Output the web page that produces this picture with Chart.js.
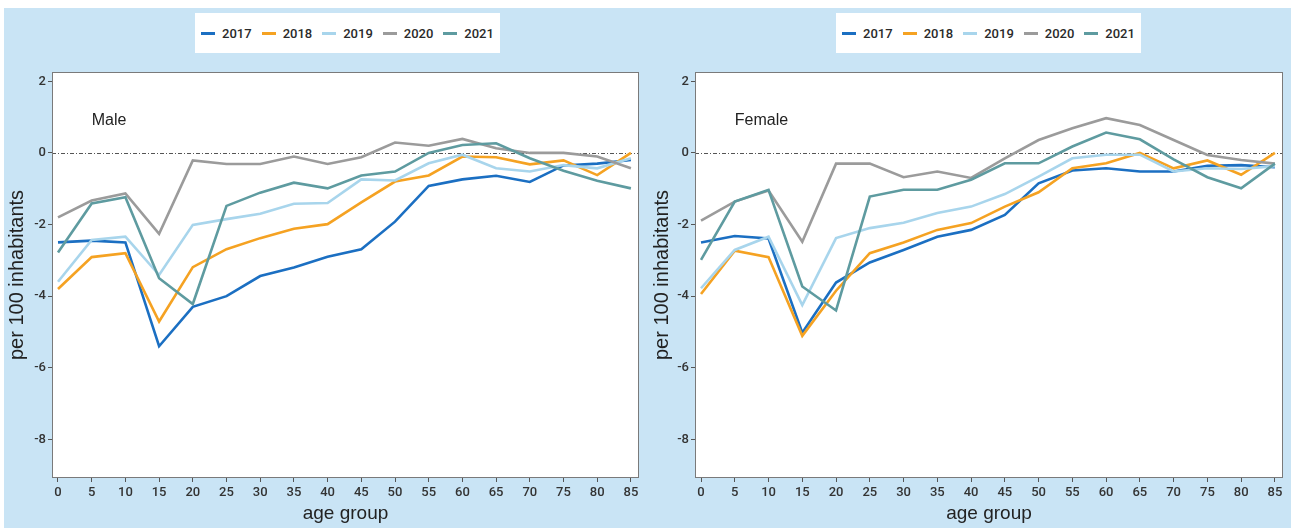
<!DOCTYPE html>
<html>
<head>
<meta charset="utf-8">
<script src="https://cdn.jsdelivr.net/npm/chart.js@4.4.1/dist/chart.umd.min.js"></script>
<style>
  body { margin: 0; background: #fff; width: 1291px; height: 528px; overflow: hidden; position: relative; }
  #bg { position: absolute; left: 4px; top: 8px; width: 1287px; height: 520px; background: #c9e4f5; }
  .panel { position: absolute; top: 0; height: 528px; }
  .legend {
    position: absolute; top: 13px; height: 40px; width: 305px; background: #fff;
    display: flex; align-items: center; justify-content: center;
    font: 500 13px Roboto, sans-serif; color: #2a2a2a;
  }
  .legend span.item { display: flex; align-items: center; margin: 0 5px; }
  .legend span.mark { display: inline-block; width: 14px; height: 3px; margin-right: 7px; }
</style>
</head>
<body>
<div id="bg"></div>
<div class="panel" style="left:0;width:645px"><canvas id="male" width="645" height="528"></canvas></div>
<div class="panel" style="left:645px;width:646px"><canvas id="female" width="646" height="528"></canvas></div>
<div class="legend" id="legMale" style="left:195px"></div>
<div class="legend" id="legFemale" style="left:836px"></div>
<script>
// data
const ages = [0, 5, 10, 15, 20, 25, 30, 35, 40, 45, 50, 55, 60, 65, 70, 75, 80, 85];
const years = ['2017', '2018', '2019', '2020', '2021'];
const colors = ['#1b6fc2', '#f5a222', '#a8d5ec', '#9b9b9b', '#5e9ba0'];
const yTicks = [-8, -6, -4, -2, 0, 2];

const male2017 = [-2.5, -2.45, -2.5, -5.4, -4.3, -4.0, -3.44, -3.2, -2.9, -2.69, -1.92, -0.92, -0.74, -0.64, -0.81, -0.35, -0.3, -0.2];
const male2018 = [-3.8, -2.91, -2.8, -4.71, -3.19, -2.69, -2.38, -2.12, -1.99, -1.38, -0.8, -0.63, -0.1, -0.12, -0.32, -0.21, -0.62, 0.0];
const male2019 = [-3.6, -2.43, -2.34, -3.41, -2.01, -1.85, -1.7, -1.42, -1.4, -0.74, -0.77, -0.29, -0.05, -0.43, -0.52, -0.34, -0.43, -0.15];
const male2020 = [-1.8, -1.33, -1.13, -2.26, -0.21, -0.31, -0.31, -0.1, -0.31, -0.12, 0.29, 0.2, 0.39, 0.13, 0.0, 0.0, -0.1, -0.43];
const male2021 = [-2.78, -1.41, -1.24, -3.5, -4.22, -1.48, -1.11, -0.83, -0.99, -0.63, -0.52, 0.0, 0.22, 0.27, -0.15, -0.5, -0.78, -0.99];

const female2017 = [-2.5, -2.32, -2.39, -5.02, -3.62, -3.06, -2.71, -2.34, -2.15, -1.73, -0.85, -0.49, -0.43, -0.52, -0.52, -0.36, -0.34, -0.4];
const female2018 = [-3.94, -2.73, -2.91, -5.11, -3.85, -2.8, -2.5, -2.15, -1.96, -1.5, -1.1, -0.43, -0.29, 0.0, -0.43, -0.21, -0.61, 0.0];
const female2019 = [-3.78, -2.71, -2.34, -4.25, -2.38, -2.1, -1.95, -1.68, -1.5, -1.15, -0.66, -0.15, -0.05, -0.05, -0.52, -0.43, -0.45, -0.37];
const female2020 = [-1.89, -1.36, -1.05, -2.48, -0.3, -0.3, -0.68, -0.52, -0.7, -0.15, 0.36, 0.69, 0.97, 0.78, 0.36, -0.06, -0.2, -0.3];
const female2021 = [-2.99, -1.36, -1.03, -3.73, -4.4, -1.22, -1.03, -1.03, -0.75, -0.29, -0.29, 0.18, 0.57, 0.38, -0.18, -0.68, -0.99, -0.3];

const tickFont = "Roboto, sans-serif";
const regular = "'Liberation Sans', Arial, sans-serif";

// white panel, zero line, frame and the sex label
const panelDecor = {
  id: 'panelDecor',
  beforeDraw(chart) {
    const a = chart.chartArea, ctx = chart.ctx;
    ctx.save();
    ctx.fillStyle = '#fff';
    ctx.fillRect(a.left, a.top, a.right - a.left, a.bottom - a.top);
    ctx.restore();
  },
  beforeDatasetsDraw(chart) {
    const a = chart.chartArea, ctx = chart.ctx;
    const y0 = Math.round(chart.scales.y.getPixelForValue(0)) + 0.5;
    ctx.save();
    ctx.strokeStyle = '#555';
    ctx.lineWidth = 1;
    ctx.setLineDash([4, 2, 1, 2]);
    ctx.beginPath();
    ctx.moveTo(a.left, y0);
    ctx.lineTo(a.right, y0);
    ctx.stroke();
    ctx.restore();
  },
  afterDraw(chart, args, opts) {
    const a = chart.chartArea, ctx = chart.ctx;
    ctx.save();
    ctx.strokeStyle = '#7a7a7a';
    ctx.lineWidth = 1;
    ctx.strokeRect(a.left + 0.5, a.top + 0.5, a.right - a.left - 1, a.bottom - a.top - 1);
    ctx.fillStyle = '#222';
    ctx.font = '16px ' + regular;
    ctx.textAlign = 'left';
    ctx.textBaseline = 'middle';
    ctx.fillText(opts.text, chart.scales.x.getPixelForValue(5), chart.scales.y.getPixelForValue(0.9));
    ctx.restore();
  }
};

function makeChart(id, series, text, padLeft, padRight, yWidth) {
  const datasets = series.map((vals, i) => ({
    label: years[i],
    data: ages.map((a, j) => ({ x: a, y: vals[j] })),
    borderColor: colors[i],
    backgroundColor: colors[i],
    borderWidth: 2.6,
    pointRadius: 0,
    tension: 0,
    order: years.length - i,
  }));

  return new Chart(document.getElementById(id), {
    type: 'line',
    data: { datasets: datasets },
    options: {
      responsive: false,
      animation: false,
      layout: { padding: { left: padLeft, right: padRight, top: 72, bottom: 0 } },
      plugins: {
        legend: { display: false },
        tooltip: { enabled: false },
        panelDecor: { text: text },
      },
      scales: {
        x: {
          type: 'linear',
          min: -0.89,
          max: 86.2,
          afterBuildTicks: (s) => { s.ticks = ages.map(v => ({ value: v })); },
          afterFit: (s) => { s.height = 50; },
          border: { display: false },
          grid: { drawOnChartArea: false, drawTicks: true, tickLength: 4, color: '#555' },
          ticks: { padding: 3, color: '#333', font: { family: tickFont, size: 13, weight: '500' }, maxRotation: 0 },
          title: { display: true, text: 'age group', color: '#222', font: { family: regular, size: 19 }, padding: { top: 0, bottom: 3 } },
        },
        y: {
          min: -9.08,
          max: 2.26,
          afterBuildTicks: (s) => { s.ticks = yTicks.map(v => ({ value: v })); },
          afterFit: (s) => { s.width = yWidth; },
          border: { display: false },
          grid: { drawOnChartArea: false, drawTicks: true, tickLength: 4, color: '#555' },
          ticks: { padding: 2, color: '#333', font: { family: tickFont, size: 13, weight: '500' } },
          title: { display: true, text: 'per 100 inhabitants', color: '#222', font: { family: regular, size: 20 }, padding: { top: 3, bottom: 0 } },
        }
      }
    },
    plugins: [panelDecor]
  });
}

makeChart('male', [male2017, male2018, male2019, male2020, male2021], 'Male', 2, 6, 50);
makeChart('female', [female2017, female2018, female2019, female2020, female2021], 'Female', 2, 8, 48);

// legends above each panel
['legMale', 'legFemale'].forEach(id => {
  const el = document.getElementById(id);
  years.forEach((y, i) => {
    const item = document.createElement('span');
    item.className = 'item';
    const mark = document.createElement('span');
    mark.className = 'mark';
    mark.style.background = colors[i];
    item.appendChild(mark);
    item.appendChild(document.createTextNode(y));
    el.appendChild(item);
  });
});
</script>
</body>
</html>
